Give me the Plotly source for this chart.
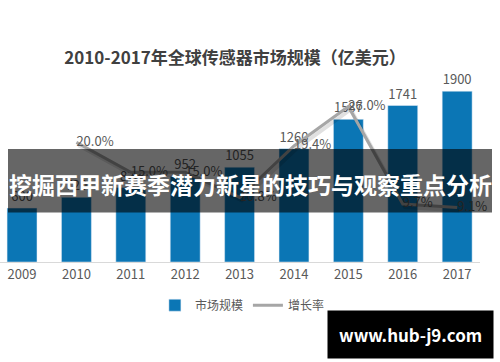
import plotly.graph_objects as go

years = ["2009", "2010", "2011", "2012", "2013", "2014", "2015", "2016", "2017"]
market_size = [600, 720, 828, 952, 1055, 1260, 1587, 1741, 1900]
growth_years = ["2010", "2011", "2012", "2013", "2014", "2015", "2016", "2017"]
growth_rate = [20.0, 15.0, 15.0, 10.8, 19.4, 26.0, 9.7, 9.1]

title_text = "2010-2017年全球传感器市场规模（亿美元）"
overlay_text = "挖掘西甲新赛季潜力新星的技巧与观察重点分析"
watermark_text = "www.hub-j9.com"

FONT = "Noto Sans CJK SC, Microsoft YaHei, sans-serif"
BLUE = "#0b76b5"
GRAY = "#a6a6a6"
TXT = "#595959"

idx = {y: i for i, y in enumerate(years)}

fig = go.Figure()
fig.add_trace(go.Bar(
    x=list(range(len(years))), y=market_size, name="市场规模",
    marker=dict(color=BLUE), width=0.55,
    text=[str(v) for v in market_size], textposition="outside",
    textfont=dict(size=13, color=TXT, family=FONT), cliponaxis=False,
))
gx = [idx[y] for y in growth_years]
fig.add_trace(go.Scatter(
    x=[v + 0.04 for v in gx], y=[g - 0.5 for g in growth_rate], yaxis="y2",
    mode="lines", line=dict(color="rgba(0,0,0,0.12)", width=4),
    showlegend=False, hoverinfo="skip",
))
fig.add_trace(go.Scatter(
    x=gx, y=growth_rate, name="增长率", yaxis="y2",
    mode="lines+text", line=dict(color=GRAY, width=3),
    text=[f"{g:.1f}%" for g in growth_rate], textposition="middle right",
    textfont=dict(size=13, color=TXT, family=FONT), cliponaxis=False,
))

fig.update_layout(
    width=500, height=362,
    margin=dict(l=0, r=20, t=70, b=100),
    paper_bgcolor="white", plot_bgcolor="white",
    font=dict(family=FONT, color=TXT),
    title=dict(text=f"<b>{title_text}</b>", x=0.47, xanchor="center",
               y=0.84, yanchor="middle",
               font=dict(size=17, color="#404040", family=FONT)),
    xaxis=dict(range=[-0.405, 8.42], tickmode="array",
               tickvals=list(range(len(years))), ticktext=years,
               showgrid=False, zeroline=False, showline=True,
               linecolor="#d9d9d9", linewidth=1, ticks="",
               tickfont=dict(size=13, color=TXT, family=FONT)),
    yaxis=dict(range=[0, 2136], visible=False, showgrid=False),
    yaxis2=dict(range=[0, 32.1], overlaying="y", visible=False, showgrid=False),
    legend=dict(orientation="h", x=0.505, xanchor="center", y=-0.225, yanchor="middle",
                font=dict(size=12, color=TXT, family=FONT)),
    bargap=0.45,
    shapes=[dict(type="rect", xref="paper", yref="paper", layer="above",
                 x0=8 / 480, x1=492 / 480,
                 y0=(262 - 212.5) / 192, y1=(262 - 149) / 192,
                 fillcolor="rgba(0,0,0,0.6)", line=dict(width=0))],
    annotations=[
        dict(text=f"<b>{overlay_text}</b>", xref="paper", yref="paper",
             x=250 / 480, y=(262 - 183.5) / 192, xanchor="center", yanchor="middle",
             showarrow=False, font=dict(size=23, color="white", family=FONT)),
        dict(text=f"<b>{watermark_text}</b>", xref="paper", yref="paper",
             x=410.5 / 480, y=(262 - 334) / 192, xanchor="center", yanchor="middle",
             showarrow=False, bgcolor="black", borderpad=11,
             font=dict(size=17, color="white", family=FONT)),
    ],
)

fig.write_html("out.html", config={"displayModeBar": False},
               post_script="document.body.style.margin='0px';")
